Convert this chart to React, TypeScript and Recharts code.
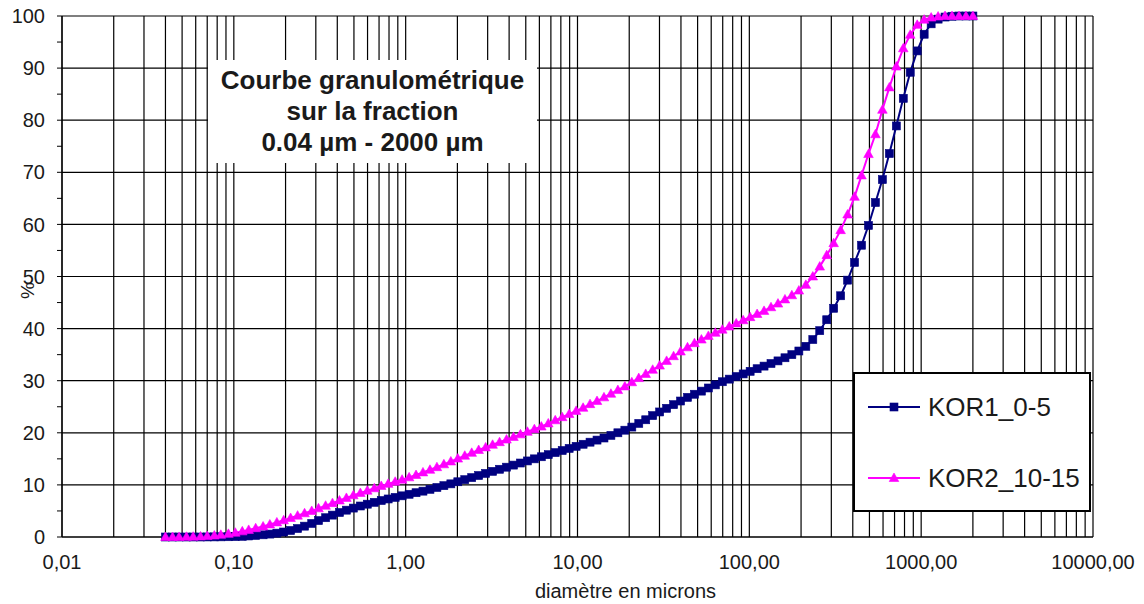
import React from 'react';
import {
  LineChart,
  Line,
  XAxis,
  YAxis,
  CartesianGrid,
  Legend,
  Label,
} from 'recharts';

// particle size classes (µm)
const DIAMETERS = [
  0.04, 0.044, 0.048, 0.053, 0.058, 0.064, 0.07, 0.077, 0.084, 0.093,
  0.102, 0.112, 0.122, 0.134, 0.148, 0.162, 0.178, 0.195, 0.214, 0.235,
  0.258, 0.284, 0.311, 0.342, 0.375, 0.412, 0.452, 0.496, 0.545, 0.598,
  0.657, 0.721, 0.791, 0.869, 0.953, 1.047, 1.149, 1.261, 1.385, 1.52,
  1.669, 1.832, 2.011, 2.208, 2.423, 2.66, 2.92, 3.206, 3.519, 3.863,
  4.241, 4.656, 5.111, 5.611, 6.159, 6.761, 7.422, 8.148, 8.944, 9.819,
  10.78, 11.83, 12.99, 14.26, 15.65, 17.18, 18.86, 20.71, 22.73, 24.95,
  27.39, 30.07, 33.01, 36.24, 39.78, 43.67, 47.94, 52.62, 57.77, 63.41,
  69.61, 76.42, 83.89, 92.09, 101.1, 111.0, 121.8, 133.7, 146.8, 161.2,
  176.8, 194.2, 213.2, 234.1, 256.9, 282.1, 309.6, 339.9, 373.1, 409.6,
  449.7, 493.6, 541.9, 594.9, 653.0, 716.9, 786.9, 863.9, 948.3, 1041,
  1143, 1255, 1377, 1512, 1660, 1822, 2000,
];

// cumulative % - KOR1_0-5
const KOR1 = [
  0, 0, 0, 0, 0, 0, 0.01, 0.02, 0.03, 0.05,
  0.08, 0.13, 0.2, 0.3, 0.42, 0.56, 0.74, 0.96, 1.25, 1.62,
  2.08, 2.6, 3.15, 3.7, 4.2, 4.7, 5.15, 5.55, 5.95, 6.3,
  6.65, 7.0, 7.3, 7.6, 7.9, 8.2, 8.5, 8.8, 9.15, 9.5,
  9.85, 10.2, 10.6, 11.0, 11.4, 11.8, 12.2, 12.6, 13.0, 13.4,
  13.8, 14.2, 14.6, 15.0, 15.4, 15.8, 16.2, 16.6, 17.0, 17.4,
  17.8, 18.2, 18.6, 19.0, 19.5, 20.0, 20.5, 21.1, 21.8, 22.5,
  23.3, 24.0, 24.7, 25.4, 26.1, 26.8, 27.4, 28.0, 28.6, 29.2,
  29.8, 30.3, 30.8, 31.3, 31.8, 32.3, 32.8, 33.3, 33.8, 34.4,
  35.0, 35.7, 36.6, 37.9, 39.6, 41.7, 43.9, 46.3, 49.3, 52.7,
  56.0, 59.8, 64.2, 68.6, 73.6, 78.9, 84.2, 89.2, 93.3, 96.5,
  98.5, 99.4, 99.8, 99.95, 100, 100, 100,
];

// cumulative % - KOR2_10-15
const KOR2 = [
  0, 0, 0.01, 0.03, 0.06, 0.1, 0.18, 0.28, 0.42, 0.6,
  0.82, 1.08, 1.36, 1.68, 2.02, 2.4, 2.8, 3.2, 3.65, 4.1,
  4.55, 5.0, 5.5, 6.0, 6.5, 7.0, 7.5, 8.0, 8.45, 8.9,
  9.35, 9.8, 10.2, 10.6, 11.0, 11.45, 11.9, 12.4, 12.9, 13.4,
  13.95, 14.5, 15.05, 15.6, 16.15, 16.7, 17.2, 17.7, 18.2, 18.7,
  19.2, 19.7, 20.2, 20.7, 21.2, 21.8, 22.4, 23.0, 23.6, 24.2,
  24.8, 25.5, 26.1, 26.8, 27.5, 28.2, 28.9, 29.7, 30.5, 31.3,
  32.1, 32.9, 33.8, 34.7, 35.6, 36.4, 37.2, 37.9, 38.6, 39.2,
  39.8, 40.4, 41.0, 41.6, 42.2, 42.8, 43.4, 44.1, 44.8, 45.6,
  46.4, 47.3, 48.4, 50.0, 51.9, 54.1, 56.4, 58.9, 61.9, 65.3,
  69.4, 73.5, 77.3, 82.0, 86.3, 90.3, 93.8, 96.4, 98.3, 99.3,
  99.7, 99.9, 100, 100, 100, 100, 100,
];

const DECADES = [0.01, 0.1, 1, 10, 100, 1000, 10000];
const Y_TICKS = [0, 5, 10, 15, 20, 25, 30, 35, 40, 45, 50, 55, 60, 65, 70, 75, 80, 85, 90, 95, 100];
const Y_GRID = [0, 10, 20, 30, 40, 50, 60, 70, 80, 90, 100];

// every 1..9 multiple inside each decade, used for the vertical grid
const X_TICKS: number[] = [];
DECADES.slice(0, -1).forEach((d) => {
  for (let m = 1; m < 10; m++) X_TICKS.push(Number((d * m).toPrecision(3)));
});
X_TICKS.push(10000);

const data = DIAMETERS.map((d, i) => ({ d, kor1: KOR1[i], kor2: KOR2[i] }));

const FONT = '"Liberation Sans", Arial, sans-serif';
const TEXT = '#1a1a1a';
const BLUE = '#000080';
const PINK = '#ff00ff';

const SERIES = [
  { key: 'kor1', name: 'KOR1_0-5', color: BLUE, marker: 'square' },
  { key: 'kor2', name: 'KOR2_10-15', color: PINK, marker: 'triangle' },
];

const Marker = ({ cx, cy, color, type }: any) => {
  if (cx == null || cy == null) return null;
  if (type === 'square') {
    return <rect x={cx - 4} y={cy - 4} width={8} height={8} fill={color} stroke={color} strokeWidth={0.6} />;
  }
  return (
    <polygon
      points={`${cx},${cy - 5} ${cx + 4.8},${cy + 3.5} ${cx - 4.8},${cy + 3.5}`}
      fill={color}
      stroke={color}
      strokeWidth={0.6}
    />
  );
};

const xFmt = (v: number) => (DECADES.includes(v) ? v.toFixed(2).replace('.', ',') : '');
const yFmt = (v: number) => (v % 10 === 0 ? String(v) : '');

const LegendBox = () => (
  <div
    style={{
      width: 238,
      height: 140,
      boxSizing: 'border-box',
      border: '2px solid #000',
      background: '#fff',
      fontFamily: FONT,
      fontSize: 26,
      color: TEXT,
      position: 'relative',
    }}
  >
    {SERIES.map((s, i) => (
      <div
        key={s.key}
        style={{ position: 'absolute', left: 11, top: i === 0 ? 18 : 89, height: 30, display: 'flex', alignItems: 'center' }}
      >
        <svg width={56} height={14} style={{ marginRight: 6 }}>
          <line x1={2} y1={7} x2={54} y2={7} stroke={s.color} strokeWidth={2} />
          <Marker cx={28} cy={7} color={s.color} type={s.marker} />
        </svg>
        <span>{s.name}</span>
      </div>
    ))}
  </div>
);

export default function App() {
  return (
    <div style={{ position: 'absolute', left: 0, top: 0, width: 1144, height: 604, background: '#fff' }}>
      <LineChart width={1144} height={604} data={data} margin={{ top: 16, right: 51, bottom: 0, left: 0 }}>
        <CartesianGrid
          stroke="#000"
          strokeWidth={1.2}
          horizontalValues={Y_GRID}
          verticalValues={X_TICKS}
          fill="#fff"
        />
        <XAxis
          dataKey="d"
          type="number"
          scale="log"
          domain={[0.01, 10000]}
          allowDataOverflow
          ticks={X_TICKS}
          interval={0}
          tickFormatter={xFmt}
          tickLine={false}
          tickSize={0}
          tickMargin={18}
          height={67}
          axisLine={{ stroke: '#000', strokeWidth: 1.2 }}
          tick={{ fill: TEXT, fontSize: 20, fontFamily: FONT }}
        >
          <Label
            value="diamètre en microns"
            position="insideBottom"
            offset={6}
            dx={48}
            style={{ fill: TEXT, fontSize: 20, fontFamily: FONT }}
          />
        </XAxis>
        <YAxis
          type="number"
          domain={[0, 100]}
          ticks={Y_TICKS}
          interval={0}
          tickFormatter={yFmt}
          width={62}
          tickSize={5}
          tickMargin={12}
          axisLine={{ stroke: '#000', strokeWidth: 1.2 }}
          tickLine={{ stroke: '#000' }}
          tick={{ fill: TEXT, fontSize: 20, fontFamily: FONT }}
        >
          <Label
            value="%"
            angle={-90}
            position="center"
            dx={-4}
            dy={14}
            style={{ fill: TEXT, fontSize: 19, fontFamily: FONT }}
          />
        </YAxis>
        <Legend
          layout="vertical"
          align="center"
          verticalAlign="middle"
          content={() => <LegendBox />}
          wrapperStyle={{ left: 853, top: 372, width: 238, height: 140 }}
        />
        {SERIES.map((s) => (
          <Line
            key={s.key}
            dataKey={s.key}
            name={s.name}
            type="linear"
            stroke={s.color}
            strokeWidth={2}
            isAnimationActive={false}
            activeDot={false}
            dot={(p: any) => <Marker key={`${s.key}-${p.index}`} cx={p.cx} cy={p.cy} color={s.color} type={s.marker} />}
          />
        ))}
      </LineChart>
      <div
        style={{
          position: 'absolute',
          left: 208,
          top: 60,
          width: 329,
          height: 103,
          background: '#fff',
          fontFamily: FONT,
          fontWeight: 'bold',
          fontSize: 26,
          lineHeight: '31px',
          color: TEXT,
          textAlign: 'center',
          paddingTop: 5,
          boxSizing: 'border-box',
        }}
      >
        Courbe granulométrique
        <br />
        sur la fraction
        <br />
        0.04 µm - 2000 µm
      </div>
    </div>
  );
}
